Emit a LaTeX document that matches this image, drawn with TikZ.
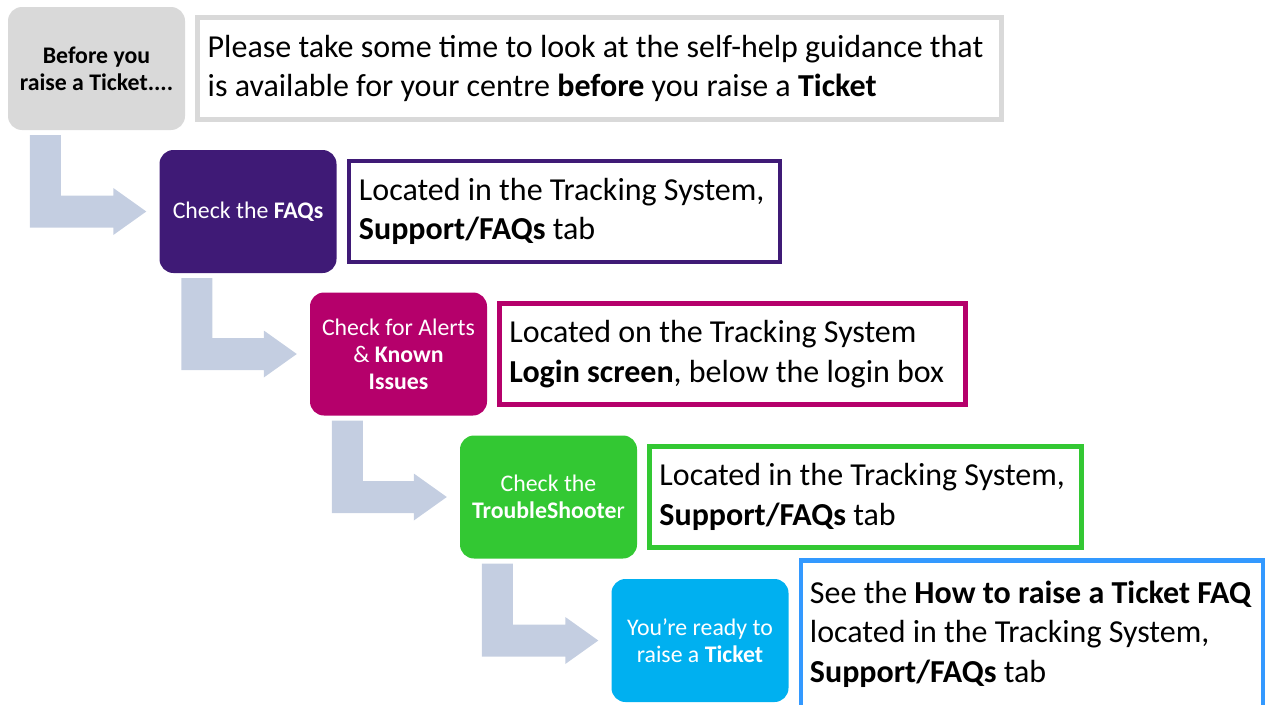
\documentclass[tikz,border=0pt]{standalone}
\usepackage{fontspec}
\setmainfont{Carlito}
\usetikzlibrary{calc,positioning}

\definecolor{boxgray}{HTML}{D9D9D9}
\definecolor{faqpurple}{HTML}{3F1A76}
\definecolor{alertmagenta}{HTML}{B5006B}
\definecolor{troublegreen}{HTML}{33C833}
\definecolor{readycyan}{HTML}{00B0F0}
\definecolor{readyblue}{HTML}{3399FF}
\definecolor{arrowblue}{HTML}{C4CEE1}

\begin{document}
\begin{tikzpicture}[x=1pt,y=-1pt,
    stepbox/.style={rounded corners=14pt, minimum width=177pt, minimum height=123pt,
      inner sep=0pt, align=center, text=white, font=\fontsize{23.8}{27}\selectfont},
    notebox/.style={draw, line width=4.5pt, fill=white, inner xsep=10pt, inner ysep=0pt,
      minimum height=101pt, align=flush left, font=\fontsize{32}{39.5}\selectfont, right=10pt of #1},
    bentarrow/.style={fill=arrowblue}]
          \clip (0,0) rectangle (1266,704);
          % steps
          \node[stepbox,fill=boxgray,text=black,font=\fontsize{23.8}{27}\selectfont\bfseries] (b0) at (96.5,68.5) {Before you\\raise a Ticket....};
          \node[stepbox,fill=faqpurple] (b1) at (248,211.5) {Check the \textbf{FAQs}};
          \node[stepbox,fill=alertmagenta] (b2) at (398.5,354) {Check for Alerts\\\& \textbf{Known}\\\textbf{Issues}};
          \node[stepbox,fill=troublegreen] (b3) at (548.5,497) {Check the\\\textbf{TroubleShoote}r};
          \node[stepbox,fill=readycyan] (b4) at (700,640.5) {You’re ready to\\raise a \textbf{Ticket}};
          % notes
          \node[notebox=b0,draw=boxgray,line width=5pt,text width=784pt,minimum height=102pt] (n0) {Please take some time to look at the self-help guidance that\\is available for your centre \textbf{before} you raise a \textbf{Ticket}};
          \node[notebox=b1,draw=faqpurple,text width=411pt] (n1) {Located in the Tracking System,\\\textbf{Support/FAQs} tab};
          \node[notebox=b2,draw=alertmagenta,text width=446pt] (n2) {Located on the Tracking System\\\textbf{Login screen}, below the login box};
          \node[notebox=b3,draw=troublegreen,text width=412pt] (n3) {Located in the Tracking System,\\\textbf{Support/FAQs} tab};
          \node[notebox=b4,draw=readyblue,inner xsep=9pt,text width=444pt,minimum height=160pt] (n4) {See the \textbf{How to raise a Ticket FAQ}\\located in the Tracking System,\\\textbf{Support/FAQs} tab\\[-22pt]\mbox{}};
          % arrows between steps
          \foreach \a/\b in {b0/b1,b1/b2,b2/b3,b3/b4}
            \fill[bentarrow] let \p1=(\a.south west), \p2=(\b.west) in
              (\x1+22pt,\y1-5pt) -- (\x1+22pt,\y2-16pt) -- (\x2-46pt,\y2-16pt)
              -- (\x2-46pt,\y2-23.5pt) -- (\x2-13pt,\y2) -- (\x2-46pt,\y2+23.5pt)
              -- (\x2-46pt,\y2+16pt) -- (\x1+53pt,\y2+16pt) -- (\x1+53pt,\y1-5pt) -- cycle;
        \end{tikzpicture}
\end{document}
